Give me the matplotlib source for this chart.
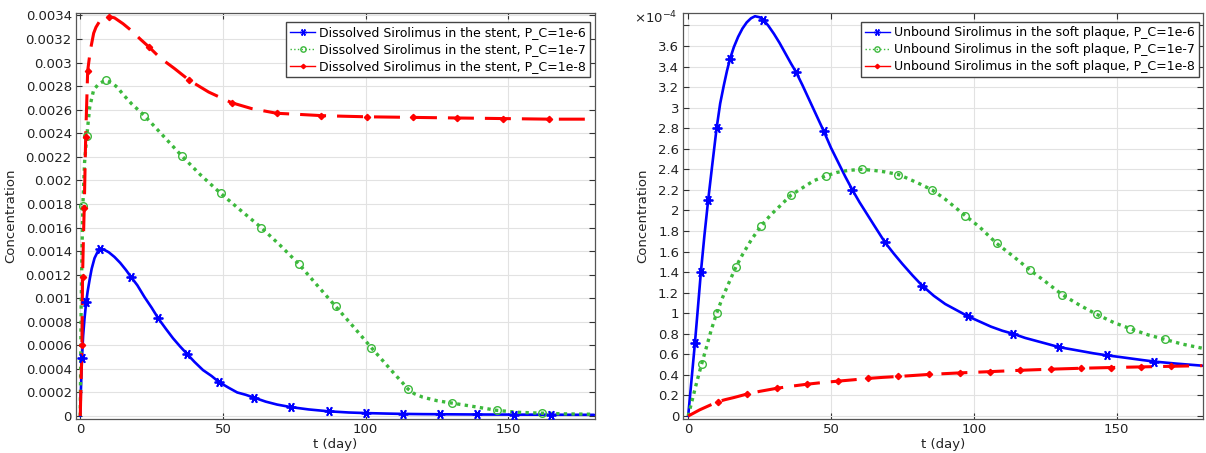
import numpy as np
import matplotlib
matplotlib.use("Agg")
import matplotlib.pyplot as plt
import matplotlib.lines as mlines
from matplotlib.ticker import FuncFormatter

# ---- stent: dissolved sirolimus ----
t_st6 = [0, 0.2, 0.6, 1.0, 1.5, 2.1, 2.6, 3.3, 4, 5, 6, 7, 8.5, 10, 12, 14, 16, 17.8, 20, 22.5,
         25, 27.3, 30, 32.5, 35, 37.3, 40, 43, 46, 48.5, 52, 55, 58, 61, 65, 69, 74, 80, 87, 94,
         100, 107, 113, 120, 126, 139, 152, 165, 180]
c_st6 = [0, 0.0002, 0.00049, 0.00068, 0.00083, 0.00097, 0.00106, 0.00116, 0.00125, 0.00134,
         0.00139, 0.00142, 0.00141, 0.00139, 0.00135, 0.0013, 0.00124, 0.00118, 0.00111, 0.00101,
         0.00092, 0.00083, 0.00074, 0.00066, 0.00059, 0.00053, 0.00046, 0.00039, 0.00034,
         0.00029, 0.00024, 0.0002, 0.00018, 0.000155, 0.000122, 0.000097, 0.000075, 0.000056,
         0.00004, 0.00003, 0.000025, 0.000021, 0.000018, 0.000016, 0.000015, 0.000013, 0.000012,
         0.000011, 0.00001]
tm_st6 = [0.6, 2.1, 7, 17.8, 27.3, 37.3, 48.5, 61, 74, 87, 100, 113, 126, 139, 152, 165]
cm_st6 = [0.00049, 0.00097, 0.00142, 0.00118, 0.00083, 0.00053, 0.00029, 0.000155, 0.000075,
          0.00004, 0.000025, 0.000018, 0.000015, 0.000013, 0.000012, 0.000011]

t_st7 = [0, 0.3, 0.6, 0.9, 1.5, 2.3, 3.3, 4.7, 6.5, 8, 9.1, 11, 13, 15, 18, 22.5, 29, 35.5, 42,
         49.2, 56, 63.4, 70, 76.6, 83, 89.5, 96, 102, 106, 110, 113, 114.8, 117, 120, 125, 130.2,
         138, 146, 153, 161.9, 170, 180]
c_st7 = [0, 0.0009, 0.0014, 0.00178, 0.00215, 0.00238, 0.00262, 0.00277, 0.00282, 0.00284,
         0.00285, 0.00283, 0.00279, 0.00273, 0.00265, 0.00255, 0.00238, 0.00221, 0.00205, 0.00189,
         0.00175, 0.0016, 0.00145, 0.00129, 0.00111, 0.00093, 0.00075, 0.00058, 0.00047, 0.00036,
         0.00028, 0.00023, 0.00019, 0.00016, 0.00013, 0.00011, 0.00008, 0.000048, 0.000032,
         0.000024, 0.000018, 0.000015]
tm_st7 = [0.9, 2.3, 9.1, 22.5, 35.5, 49.2, 63.4, 76.6, 89.5, 102, 114.8, 130.2, 146, 161.9]
cm_st7 = [0.00178, 0.00238, 0.00285, 0.00255, 0.00221, 0.00189, 0.0016, 0.00129, 0.00093,
          0.00058, 0.00023, 0.00011, 0.000048, 0.000024]

t_st8 = [0, 0.2, 0.4, 0.6, 0.8, 1.1, 1.4, 1.9, 2.6, 3.5, 4.7, 5.5, 7, 8.5, 10.1, 12, 15, 18,
         21, 24.2, 28, 33, 38.2, 45, 53, 60, 68.8, 77, 84.5, 92, 100.6, 116.5, 132, 148, 164.3, 180]
c_st8 = [0, 0.0002, 0.0004, 0.0006, 0.00118, 0.0015, 0.00177, 0.00237, 0.00293, 0.0031,
         0.00325, 0.0033, 0.00336, 0.00338, 0.00339, 0.00338, 0.00333, 0.00327, 0.0032, 0.00313,
         0.00304, 0.00295, 0.00285, 0.00275, 0.00266, 0.00261, 0.00257, 0.00256, 0.00255,
         0.002545, 0.00254, 0.002535, 0.00253, 0.002525, 0.00252, 0.00252]
tm_st8 = [0.6, 0.8, 1.4, 1.9, 2.6, 10.1, 24.2, 38.2, 53, 68.8, 84.5, 100.6, 116.5, 132, 148, 164.3]
cm_st8 = [0.0006, 0.00118, 0.00177, 0.00237, 0.00293, 0.00339, 0.00313, 0.00285, 0.00266,
          0.00257, 0.00255, 0.00254, 0.002535, 0.00253, 0.002525, 0.00252]

# ---- soft plaque: unbound sirolimus ----
t_pl6 = [0, 1, 2.35, 3.4, 4.45, 5.7, 7.0, 8.5, 9.95, 11.2, 12.5, 13.6, 14.6, 16, 17.5, 19, 20.5,
         22, 23.4, 25, 26.3, 28, 30, 32, 34, 36, 37.7, 40, 42.5, 45, 47.5, 50, 52.5, 55, 57.5, 60,
         62.5, 65, 68.9, 72, 75, 78.5, 81.9, 86, 90, 94, 98, 102, 106, 110, 113.8, 118, 122, 126,
         129.9, 134, 138, 142, 146.7, 151, 155, 159, 163.2, 171, 180]
c_pl6 = [0, 0.3, 0.706, 1.05, 1.40, 1.76, 2.10, 2.46, 2.80, 3.04, 3.22, 3.36, 3.47, 3.59, 3.69,
         3.77, 3.83, 3.87, 3.89, 3.88, 3.855, 3.80, 3.72, 3.63, 3.53, 3.43, 3.35, 3.22, 3.07, 2.92,
         2.77, 2.61, 2.47, 2.33, 2.20, 2.08, 1.97, 1.86, 1.69, 1.58, 1.48, 1.37, 1.27, 1.17, 1.09,
         1.03, 0.97, 0.92, 0.87, 0.83, 0.80, 0.76, 0.73, 0.70, 0.67, 0.65, 0.63, 0.61, 0.59, 0.575,
         0.56, 0.545, 0.53, 0.51, 0.49]
tm_pl6 = [2.35, 4.45, 7.0, 9.95, 14.6, 26.3, 37.7, 47.5, 57.5, 68.9, 81.9, 98, 113.8, 129.9,
          146.7, 163.2]
cm_pl6 = [0.706, 1.40, 2.10, 2.80, 3.47, 3.855, 3.35, 2.77, 2.20, 1.69, 1.27, 0.97, 0.80, 0.67,
          0.59, 0.53]

t_pl7 = [0, 1, 2, 3, 4.7, 6.5, 8, 9.95, 12, 14, 16.7, 19, 22, 25.5, 29, 32, 36, 40, 44, 48.1, 52,
         56, 60.8, 65, 69, 73.6, 77, 81, 85.4, 90, 97, 102, 108, 114, 119.7, 125, 131, 137, 143,
         149, 154.8, 161, 167, 173, 180]
c_pl7 = [0, 0.11, 0.22, 0.33, 0.505, 0.68, 0.83, 1.0, 1.15, 1.28, 1.45, 1.57, 1.71, 1.85, 1.96,
         2.04, 2.15, 2.22, 2.29, 2.335, 2.37, 2.39, 2.40, 2.39, 2.375, 2.35, 2.31, 2.26, 2.20,
         2.11, 1.95, 1.84, 1.68, 1.55, 1.42, 1.31, 1.18, 1.08, 0.99, 0.91, 0.85, 0.79, 0.745,
         0.70, 0.66]
tm_pl7 = [4.7, 9.95, 16.7, 25.5, 36, 48.1, 60.8, 73.6, 85.4, 97, 108, 119.7, 131, 143, 154.8, 167]
cm_pl7 = [0.505, 1.0, 1.45, 1.85, 2.15, 2.335, 2.40, 2.35, 2.20, 1.95, 1.68, 1.42, 1.18, 0.99,
          0.85, 0.745]

t_pl8 = [0, 2, 4, 6, 8, 10.3, 13, 16, 20.6, 25, 31, 36, 41.7, 47, 52.6, 58, 63, 68, 73.6, 84.4,
         95.2, 105.7, 116.2, 127, 137.6, 148, 158.5, 169, 180]
c_pl8 = [0, 0.03, 0.06, 0.085, 0.11, 0.139, 0.16, 0.18, 0.214, 0.24, 0.27, 0.29, 0.31, 0.326,
         0.34, 0.353, 0.366, 0.376, 0.385, 0.405, 0.42, 0.432, 0.445, 0.456, 0.465, 0.472, 0.478,
         0.484, 0.49]
tm_pl8 = [10.3, 20.6, 31, 41.7, 52.6, 63, 73.6, 84.4, 95.2, 105.7, 116.2, 127, 137.6, 148,
          158.5, 169]
cm_pl8 = [0.139, 0.214, 0.27, 0.31, 0.34, 0.366, 0.385, 0.405, 0.42, 0.432, 0.445, 0.456, 0.465,
          0.472, 0.478, 0.484]
plaque_scale = 1e-4   # plaque values above are in units of 1e-4

pc_labels = ['P_C=1e-6', 'P_C=1e-7', 'P_C=1e-8']

BLUE = '#0000ff'
GREEN = '#3cb93c'
RED = '#ff0000'

styles = [
  dict(color=BLUE, ls='-', lw=1.9, marker=(6, 2, 90), ms=7, mew=1.3, mfc=BLUE, leg_ls='-'),
  dict(color=GREEN, ls=(0, (1.0, 1.3)), lw=2.4, marker='o', ms=5.5, mew=1.0, mfc='none',
       leg_ls=':'),
  dict(color=RED, ls=(0, (8.5, 3.6)), lw=2.2, marker='D', ms=3.2, mew=1.0, mfc=RED, leg_ls='-'),
]

plt.rcParams['font.family'] = 'DejaVu Sans'
fig = plt.figure(figsize=(12.06, 4.53), dpi=100)
ax1 = fig.add_axes([0.063, 0.075, 0.430, 0.896])
ax2 = fig.add_axes([0.5666, 0.075, 0.431, 0.896])


def draw(ax, series, prefix, scale=1.0):
  handles = []
  for (t, c, tm, cm), st, lab in zip(series, styles, pc_labels):
    ax.plot(t, np.asarray(c) * scale, color=st['color'], ls=st['ls'], lw=st['lw'],
            dash_capstyle='butt', solid_capstyle='round', zorder=3)
    ax.plot(tm, np.asarray(cm) * scale, ls='none', marker=st['marker'], ms=st['ms'],
            mew=st['mew'], mec=st['color'], mfc=st['mfc'], zorder=4)
    handles.append(mlines.Line2D([], [], color=st['color'], ls=st['leg_ls'], lw=1.0,
                                 marker=st['marker'], ms=st['ms'] * 0.7, mew=1.0,
                                 mec=st['color'], mfc=st['mfc'],
                                 label=prefix + ', ' + lab))
  leg = ax.legend(handles=handles, loc='upper right', bbox_to_anchor=(0.992, 0.978),
                  fontsize=9, frameon=True, fancybox=False, framealpha=1,
                  edgecolor='#444444', handlelength=2.0, handletextpad=0.3,
                  labelspacing=0.3, borderpad=0.35, borderaxespad=0)
  leg.get_frame().set_linewidth(1.0)
  leg.set_zorder(10)


def style_axes(ax):
  ax.set_xlim(-1.5, 180.2)
  ax.set_xticks([0, 50, 100, 150])
  ax.grid(True, color='#e2e2e2', lw=0.8, zorder=0)
  ax.tick_params(direction='in', top=True, right=True, length=4, width=0.8,
                 color='#333333', labelsize=9.5, labelcolor='#222222', pad=3)
  for sp in ax.spines.values():
    sp.set_color('#555555')
    sp.set_linewidth(0.9)
  ax.set_xlabel('t (day)', fontsize=9.5, color='#222222', labelpad=1)
  ax.set_ylabel('Concentration', fontsize=9.5, color='#222222', labelpad=6)


draw(ax1, [(t_st6, c_st6, tm_st6, cm_st6), (t_st7, c_st7, tm_st7, cm_st7),
           (t_st8, c_st8, tm_st8, cm_st8)], 'Dissolved Sirolimus in the stent')
style_axes(ax1)
ax1.set_ylim(-0.0000255, 0.00342)
ax1.set_yticks(np.arange(0, 0.00341, 0.0002))
ax1.yaxis.set_major_formatter(FuncFormatter(lambda v, p: '%g' % round(v, 6)))

draw(ax2, [(t_pl6, c_pl6, tm_pl6, cm_pl6), (t_pl7, c_pl7, tm_pl7, cm_pl7),
           (t_pl8, c_pl8, tm_pl8, cm_pl8)], 'Unbound Sirolimus in the soft plaque',
     scale=plaque_scale)
style_axes(ax2)
ax2.set_xlim(-1.7, 180.3)
ax2.set_ylim(-0.029e-4, 3.92e-4)
ax2.set_yticks(np.arange(0, 3.81e-4, 0.2e-4))


def plaque_fmt(v, p):
  s = round(v / plaque_scale, 3)
  return '' if s > 3.7 else '%g' % s


ax2.yaxis.set_major_formatter(FuncFormatter(plaque_fmt))
ax2.text(-0.054, 0.988, r'$\times10^{-4}$', transform=ax2.transAxes, ha='center',
         va='center', fontsize=9.5, color='#222222')

fig.savefig('out.png', dpi=100)
